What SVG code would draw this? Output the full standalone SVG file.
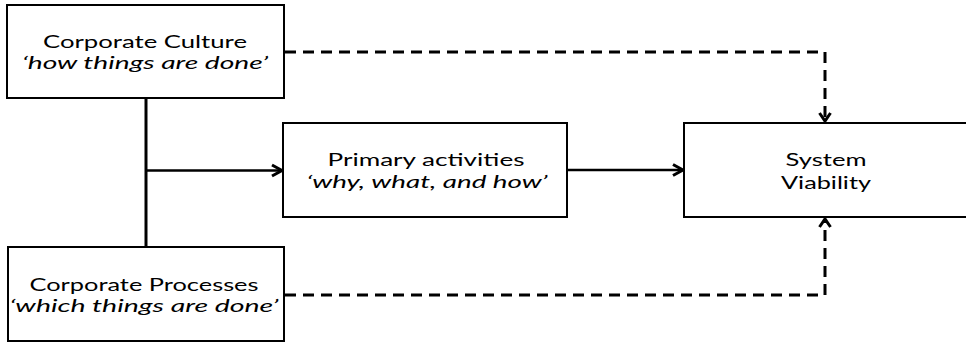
<svg xmlns="http://www.w3.org/2000/svg" width="966" height="344" viewBox="0 0 966 344">
<style>
.box{fill:#fff;stroke:#000;stroke-width:2}
.t{font-family:Lato,"Open Sans","Liberation Sans",sans-serif;font-size:17px;fill:#000;text-anchor:middle}
.i{font-style:italic}
.solid{fill:none;stroke:#000;stroke-width:3}
.thin{fill:none;stroke:#000;stroke-width:2.5}
.dash{fill:none;stroke:#000;stroke-width:3;stroke-dasharray:11 7}
.head{fill:none;stroke:#000;stroke-width:3;stroke-linejoin:miter}
</style>
<rect width="966" height="344" fill="#fff"/>
<g id="connectors">
<path class="solid" d="M146 98 V247"/>
<path class="thin" d="M146 170.5 H281"/>
<path class="head" d="M272 165 L282 170.5 L272 176"/>
<path class="thin" d="M567 170 H682"/>
<path class="head" d="M673 164.5 L683 170 L673 175.5"/>
<path class="dash" d="M285 52 H825 V119"/>
<path class="head" d="M819.5 113 L825 121 L830.5 113"/>
<path class="dash" d="M285 295 H825 V220"/>
<path class="head" d="M819.5 227 L825 219 L830.5 227"/>
</g>
<g id="culture">
<rect class="box" x="7" y="5" width="277" height="93"/>
<text class="t" x="145" y="47.5" textLength="204" lengthAdjust="spacingAndGlyphs">Corporate Culture</text>
<text class="t i" x="145" y="68.5" textLength="246" lengthAdjust="spacingAndGlyphs">‘how things are done’</text>
</g>
<g id="processes">
<rect class="box" x="8" y="247" width="276" height="94"/>
<text class="t" x="144" y="291" textLength="229" lengthAdjust="spacingAndGlyphs">Corporate Processes</text>
<text class="t i" x="144" y="312" textLength="269" lengthAdjust="spacingAndGlyphs">‘which things are done’</text>
</g>
<g id="primary">
<rect class="box" x="283" y="123" width="284" height="94"/>
<text class="t" x="426" y="166" textLength="197" lengthAdjust="spacingAndGlyphs">Primary activities</text>
<text class="t i" x="427" y="188" textLength="241" lengthAdjust="spacingAndGlyphs">‘why, what, and how’</text>
</g>
<g id="viability">
<rect class="box" x="684" y="123" width="300" height="94"/>
<text class="t" x="826" y="166" textLength="81" lengthAdjust="spacingAndGlyphs">System</text>
<text class="t" x="826" y="189" textLength="90" lengthAdjust="spacingAndGlyphs">Viability</text>
</g>
</svg>
